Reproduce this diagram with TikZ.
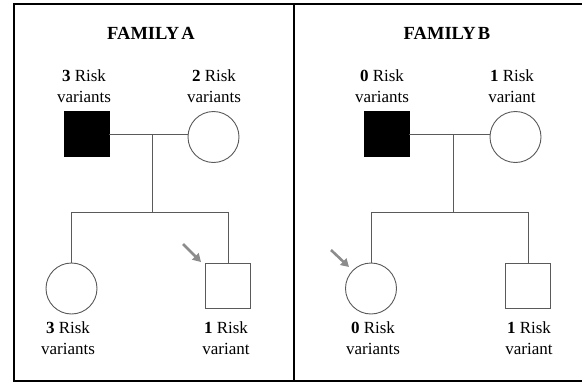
\documentclass[tikz,border=0pt]{standalone}
\usepackage{fontspec}
\setmainfont{Liberation Serif}
\usetikzlibrary{arrows.meta}
\definecolor{linegray}{HTML}{5A5A5A}
\definecolor{arrowgray}{HTML}{8C8C8C}
\tikzset{
  frame/.style={line width=2pt, black},
  male/.style={draw=linegray, line width=0.9pt, minimum size=45pt, inner sep=0pt, fill=white},
  affected/.style={fill=black, draw=black},
  female/.style={circle, draw=linegray, line width=0.9pt, minimum size=51pt, inner sep=0pt, fill=white},
  link/.style={draw=linegray, line width=0.9pt},
  label/.style={align=center, font=\fontsize{17}{21}\selectfont, inner sep=0pt},
  title/.style={font=\fontsize{18.5}{21}\selectfont\bfseries, inner sep=0pt},
  proband/.style={draw=arrowgray, line width=2.6pt, -{Triangle[length=8pt,width=9pt]}}
}
\begin{document}
\begin{tikzpicture}[x=1pt, y=-1pt]
  \useasboundingbox (0,0) rectangle (582,383);
  % frame and divider
  \coordinate (tl) at (14,4);
  \coordinate (tr) at (582,4);
  \coordinate (bl) at (14,381);
  \coordinate (br) at (582,381);
  \coordinate (dt) at (294,4);
  \coordinate (db) at (294,381);
  \draw[frame] (tr) -- (tl) -- (bl) -- (br);
  \draw[frame] (dt) -- (db);

  % ---------- Family A ----------
  \node[title] (tA) at (151,33) {FAMILY\kern0.12em A};
  \node[male, affected] (fA) at (86.5,134) {};
  \node[female] (mA) at (213.5,137) {};
  \node[female] (dA) at (71.5,288.5) {};
  \node[male] (sA) at (228,285.5) {};
  \coordinate (mcA) at (152,134);
  \coordinate (sbA) at (152,212);
  \coordinate (slA) at (71.5,212);
  \coordinate (srA) at (228,212);
  \draw[link] (fA.east) -- (mA.west |- fA.east);
  \draw[link] (mcA) -- (sbA);
  \draw[link] (dA.north) -- (slA) -- (srA) -- (sA.north);
  \node[label] (lfA) at (84,86) {\textbf{3} Risk\\variants};
  \node[label] (lmA) at (214,86) {\textbf{2} Risk\\variants};
  \node[label] (ldA) at (68,338) {\textbf{3} Risk\\variants};
  \node[label] (lsA) at (226,338) {\textbf{1} Risk\\variant};
  \coordinate (arA) at (183,244);
  \draw[proband] (arA) -- (201,262);

  % ---------- Family B ----------
  \node[title] (tB) at (447,33) {FAMILY\kern0.12em B};
  \node[male, affected] (fB) at (386.5,134) {};
  \node[female] (mB) at (515.5,137) {};
  \node[female] (dB) at (371,288.5) {};
  \node[male] (sB) at (528,285.5) {};
  \coordinate (mcB) at (453,134);
  \coordinate (sbB) at (453,212);
  \coordinate (slB) at (371,212);
  \coordinate (srB) at (528,212);
  \draw[link] (fB.east) -- (mB.west |- fB.east);
  \draw[link] (mcB) -- (sbB);
  \draw[link] (dB.north) -- (slB) -- (srB) -- (sB.north);
  \node[label] (lfB) at (382,86) {\textbf{0} Risk\\variants};
  \node[label] (lmB) at (512,86) {\textbf{1} Risk\\variant};
  \node[label] (ldB) at (373,338) {\textbf{0} Risk\\variants};
  \node[label] (lsB) at (529,338) {\textbf{1} Risk\\variant};
  \coordinate (arB) at (331,250);
  \draw[proband] (arB) -- (349,267);
\end{tikzpicture}
\end{document}
